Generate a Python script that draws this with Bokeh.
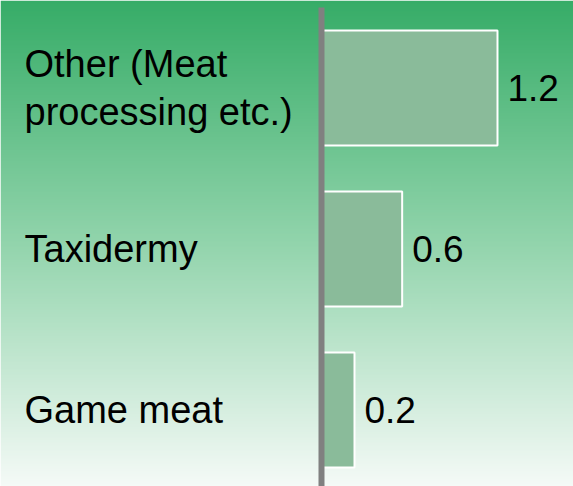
import numpy as np
from bokeh.plotting import figure
from bokeh.models import Range1d
from bokeh.core.properties import value
from bokeh.embed import file_html
from bokeh.resources import INLINE

# ---- data ----
categories = ["Other (Meat\nprocessing etc.)", "Taxidermy", "Game meat"]
bar_values = [1.2, 0.55, 0.225]
value_labels = ["1.2", "0.6", "0.2"]

W, H = 573, 486
n = len(categories)
ypos = [n - 1 - i for i in range(n)]  # first category on top

x_start, x_end = -2.1886, 1.7182
y_start, y_end = -0.475, 2.5435

p = figure(width=W, height=H,
           x_range=Range1d(x_start, x_end), y_range=Range1d(y_start, y_end),
           output_backend="svg", toolbar_location=None,
           x_axis_type=None, y_axis_type=None,
           min_border=0, outline_line_color=None,
           background_fill_color=None, border_fill_color="white")
p.xgrid.visible = False
p.ygrid.visible = False

# ---- vertical gradient background (top green -> white) ----
stops_t = [0.0, 0.5, 1.0]
stops_c = [(54, 172, 103), (146, 212, 172), (245, 250, 247)]
N = 300
img = np.empty((N, 1), dtype=np.uint32)
view = img.view(dtype=np.uint8).reshape((N, 1, 4))
for r in range(N):
    t = 1.0 - (r + 0.5) / N  # fraction from top
    for k in range(3):
        view[r, 0, k] = int(round(np.interp(t, stops_t, [c[k] for c in stops_c])))
    view[r, 0, 3] = 255
p.image_rgba(image=[img], x=x_start, y=y_start, dw=x_end - x_start, dh=y_end - y_start)

# ---- bars ----
p.hbar(y=ypos, left=0, right=bar_values, height=0.714,
       fill_color="#8abb9a", line_color="white", line_width=2)

# ---- axis line ----
p.segment(x0=[0], y0=[y_start], x1=[0], y1=[max(ypos) + 0.5],
          line_color="#808080", line_width=6)

# ---- category labels ----
p.text(x=[x_start] * n, y=ypos, text=categories, x_offset=24,
       text_align="left", text_baseline="middle",
       text_font=value("Liberation Sans"), text_font_size="38px",
       text_color="black", text_line_height=1.16)

# ---- value labels ----
p.text(x=bar_values, y=ypos, text=value_labels, x_offset=10,
       text_align="left", text_baseline="middle",
       text_font=value("Liberation Sans"), text_font_size="37px",
       text_color="black")

open("out.html", "w").write(file_html(p, INLINE))
